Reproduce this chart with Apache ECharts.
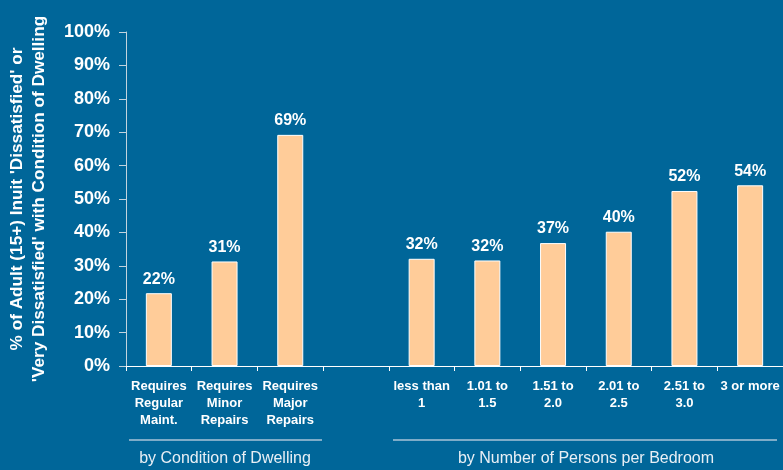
<!DOCTYPE html>
<html>
<head>
<meta charset="utf-8">
<script src="https://cdn.jsdelivr.net/npm/echarts@6/dist/echarts.min.js"></script>
<style>
html,body{margin:0;padding:0;background:#006699;}
#c{width:783px;height:470px;}
</style>
</head>
<body>
<div id="c"></div>
<script>
var categories = ["Requires\nRegular\nMaint.", "Requires\nMinor\nRepairs", "Requires\nMajor\nRepairs", "", "less than\n1", "1.01 to\n1.5", "1.51 to\n2.0", "2.01 to\n2.5", "2.51 to\n3.0", "3 or more"];
var values = [21.8, 31.3, 69.2, null, 32.1, 31.6, 36.8, 40.2, 52.4, 54.1];
var valueLabels = ["22%", "31%", "69%", "", "32%", "32%", "37%", "40%", "52%", "54%"];
var yTicks = [0, 10, 20, 30, 40, 50, 60, 70, 80, 90, 100];
var groupLabels = ["by Condition of Dwelling", "by Number of Persons per Bedroom"];
var yTitle = "% of Adult (15+) Inuit 'Dissatisfied' or\n'Very Dissatisfied' with Condition of Dwelling";

var chart = echarts.init(document.getElementById('c'));
chart.setOption({
  backgroundColor: '#006699',
  animation: false,
  grid: {left: 126, right: 0, top: 32, bottom: 104, containLabel: false, outerBoundsMode: 'none'},
  xAxis: {
    type: 'category',
    data: categories,
    boundaryGap: true,
    axisLine: {lineStyle: {color: '#ffffff', width: 1}},
    axisTick: {show: true, length: 5, inside: false, lineStyle: {color: '#ffffff'}},
    axisLabel: {color: '#ffffff', fontFamily: 'Liberation Sans, Arial', fontWeight: 'bold', fontSize: 13, lineHeight: 17, margin: 12, interval: 0}
  },
  yAxis: {
    type: 'value',
    min: yTicks[0],
    max: yTicks[yTicks.length - 1],
    interval: 10,
    name: yTitle,
    nameLocation: 'middle',
    nameRotate: 90,
    nameGap: 76,
    nameTextStyle: {color: '#ffffff', fontFamily: 'Liberation Sans, Arial', fontWeight: 'bold', fontSize: 17.2, lineHeight: 22, align: 'center'},
    splitLine: {show: false},
    axisLine: {show: true, lineStyle: {color: '#c4d4de', width: 1}},
    axisTick: {show: true, length: 7, lineStyle: {color: '#c4d4de'}},
    axisLabel: {color: '#ffffff', fontFamily: 'Liberation Sans, Arial', fontWeight: 'bold', fontSize: 18, margin: 16, formatter: function (v) { return v + '%'; }}
  },
  series: [{
    type: 'bar',
    data: values,
    barWidth: 26,
    itemStyle: {color: '#ffcc99', borderColor: '#ffffff', borderWidth: 1},
    label: {
      show: true, position: 'top', distance: 6,
      color: '#ffffff', fontFamily: 'Liberation Sans, Arial', fontWeight: 'bold', fontSize: 16,
      formatter: function (p) { return valueLabels[p.dataIndex]; }
    }
  }],
  graphic: [
    {type: 'line', shape: {x1: 129, y1: 440, x2: 322, y2: 440}, style: {stroke: '#a9c4d8', lineWidth: 1.5}},
    {type: 'line', shape: {x1: 393, y1: 440, x2: 777, y2: 440}, style: {stroke: '#a9c4d8', lineWidth: 1.5}},
    {type: 'text', x: 225, y: 459, style: {text: groupLabels[0], fill: '#e8eff5', font: '16px "Liberation Sans", Arial', textAlign: 'center', textVerticalAlign: 'middle'}},
    {type: 'text', x: 586, y: 459, style: {text: groupLabels[1], fill: '#e8eff5', font: '16px "Liberation Sans", Arial', textAlign: 'center', textVerticalAlign: 'middle'}}
  ]
});
</script>
</body>
</html>
